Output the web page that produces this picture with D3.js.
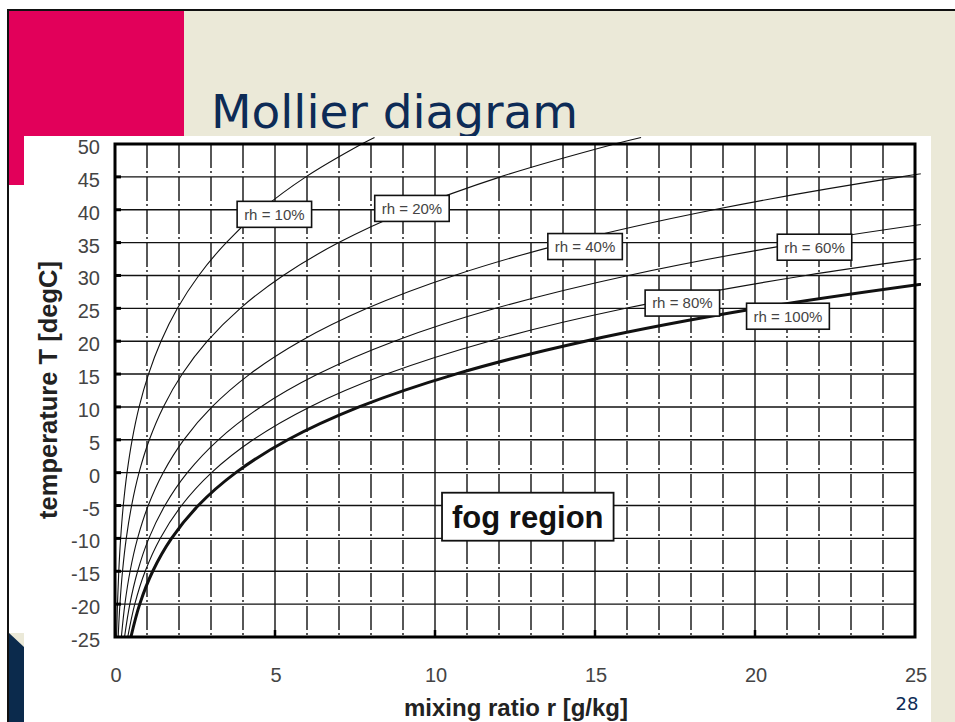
<!DOCTYPE html>
<html>
<head>
<meta charset="utf-8">
<script src="https://cdn.jsdelivr.net/npm/d3@7"></script>
<style>
  html, body { margin: 0; padding: 0; background: #fff; }
  svg { display: block; }
</style>
</head>
<body>
<script>
const temps = [-25, -20, -15, -10, -5, 0, 5, 10, 15, 20, 25, 30, 35, 40, 45, 50, 51];

// mixing ratio r [g/kg] along each curve, read at the temps above
const rh10  = [0.050, 0.077, 0.118, 0.176, 0.259, 0.376, 0.536, 0.754, 1.048, 1.438, 1.951, 2.618, 3.477, 4.574, 5.964, 7.710, 8.11];
const rh20  = [0.099, 0.154, 0.235, 0.352, 0.519, 0.751, 1.073, 1.511, 2.100, 2.883, 3.915, 5.258, 6.993, 9.216, 12.043, 15.614, 16.44];
const rh40  = [0.199, 0.309, 0.471, 0.705, 1.038, 1.505, 2.149, 3.029, 4.214, 5.793, 7.878, 10.606, 14.144, 18.709, 24.561, 32.031];
const rh60  = [0.298, 0.464, 0.707, 1.058, 1.559, 2.260, 3.230, 4.554, 6.342, 8.731, 11.893, 16.045, 21.460, 28.493];
const rh80  = [0.398, 0.618, 0.943, 1.412, 2.080, 3.017, 4.314, 6.087, 8.485, 11.696, 15.959, 21.579, 28.946];
const rh100 = [0.497, 0.773, 1.179, 1.766, 2.602, 3.776, 5.401, 7.628, 10.643, 14.689, 20.077, 27.210];

const curveNames = ["rh = 10%", "rh = 20%", "rh = 40%", "rh = 60%", "rh = 80%", "rh = 100%"];

// tick labels
const xTicks = [0, 5, 10, 15, 20, 25];
const yTicks = [50, 45, 40, 35, 30, 25, 20, 15, 10, 5, 0, -5, -10, -15, -20, -25];

// where the curve labels sit (data units)
const labelSpots = [
  { r: 4.98,  t: 39.3 },
  { r: 9.28,  t: 40.2 },
  { r: 14.69, t: 34.4 },
  { r: 21.86, t: 34.3 },
  { r: 17.73, t: 25.8 },
  { r: 21.03, t: 23.8 }
];

var width = 955, height = 722;
var plotLeft = 115, plotRight = 915, plotTop = 144, plotBottom = 637;

var svg = d3.select("body").append("svg")
  .attr("width", width)
  .attr("height", height);

// ---- slide background ----
svg.append("rect").attr("x", 0).attr("y", 0).attr("width", width).attr("height", height).attr("fill", "#fff");
svg.append("rect").attr("x", 8).attr("y", 10).attr("width", width - 8).attr("height", height - 10).attr("fill", "#ebe9d8");
svg.append("rect").attr("x", 9).attr("y", 11).attr("width", 175).attr("height", 125).attr("fill", "#e2005a");

// title
svg.append("text")
  .attr("x", 211)
  .attr("y", 128)
  .attr("font-family", "DejaVu Sans, Verdana, sans-serif")
  .attr("font-size", 47)
  .attr("fill", "#0d2b56")
  .text("Mollier diagram");

// white picture area
svg.append("rect").attr("x", 24).attr("y", 136).attr("width", 907).attr("height", height - 136).attr("fill", "#fff");
svg.append("rect").attr("x", 9).attr("y", 136).attr("width", 15).attr("height", 49).attr("fill", "#e2005a");
svg.append("rect").attr("x", 9).attr("y", 185).attr("width", 15).attr("height", 448).attr("fill", "#fff");
svg.append("path").attr("d", "M9,633 L24,647 L24,722 L9,722 Z").attr("fill", "#0b2a4c");

// slide border lines
svg.append("line").attr("x1", 7).attr("x2", width).attr("y1", 10).attr("y2", 10).attr("stroke", "#111").attr("stroke-width", 2);
svg.append("line").attr("x1", 8).attr("x2", 8).attr("y1", 9).attr("y2", height).attr("stroke", "#111").attr("stroke-width", 2);

// page number
svg.append("text")
  .attr("x", 907)
  .attr("y", 710)
  .attr("text-anchor", "middle")
  .attr("font-family", "DejaVu Sans, Verdana, sans-serif")
  .attr("font-size", 18)
  .attr("fill", "#0d2b56")
  .text("28");

// ---- chart ----
var xScale = d3.scaleLinear().domain([0, 25]).range([plotLeft, plotRight]);
var yScale = d3.scaleLinear().domain([-25, 50]).range([plotBottom, plotTop]);

var grid = svg.append("g");

// horizontal grid every 5 degC
grid.selectAll("line.h")
  .data(yTicks)
  .enter().append("line")
  .attr("class", "h")
  .attr("x1", plotLeft).attr("x2", plotRight)
  .attr("y1", d => yScale(d)).attr("y2", d => yScale(d))
  .attr("stroke", "#111")
  .attr("stroke-width", 1.4);

// vertical grid every 1 g/kg, solid at the labelled ones
grid.selectAll("line.v")
  .data(d3.range(1, 25))
  .enter().append("line")
  .attr("class", "v")
  .attr("x1", d => xScale(d)).attr("x2", d => xScale(d))
  .attr("y1", plotTop).attr("y2", plotBottom)
  .attr("stroke", "#111")
  .attr("stroke-width", 1.4)
  .attr("stroke-dasharray", d => d % 5 === 0 ? null : "24,3,2,4");

// rh curves
var clip = svg.append("clipPath").attr("id", "plotclip");
clip.append("rect").attr("x", plotLeft).attr("y", 134).attr("width", plotRight - plotLeft + 6).attr("height", plotBottom - 134);

var line = d3.line()
  .x(d => xScale(d[0]))
  .y(d => yScale(d[1]))
  .curve(d3.curveCatmullRom.alpha(0.5));

var series = [rh10, rh20, rh40, rh60, rh80, rh100];
svg.append("g")
  .attr("clip-path", "url(#plotclip)")
  .selectAll("path")
  .data(series)
  .enter().append("path")
  .attr("d", s => line(s.map((r, i) => [r, temps[i]])))
  .attr("fill", "none")
  .attr("stroke", "#111")
  .attr("stroke-width", (s, i) => i === series.length - 1 ? 3 : 1.1);

// frame
svg.append("rect")
  .attr("x", plotLeft).attr("y", plotTop)
  .attr("width", plotRight - plotLeft).attr("height", plotBottom - plotTop)
  .attr("fill", "none")
  .attr("stroke", "#000")
  .attr("stroke-width", 3);

// small ticks on the left axis and the bottom axis
svg.selectAll("line.yt")
  .data(yTicks.slice(1, -1))
  .enter().append("line")
  .attr("class", "yt")
  .attr("x1", plotLeft).attr("x2", plotLeft + 6)
  .attr("y1", d => yScale(d)).attr("y2", d => yScale(d))
  .attr("stroke", "#000").attr("stroke-width", 3);

svg.selectAll("line.xt")
  .data(xTicks.slice(1, -1))
  .enter().append("line")
  .attr("class", "xt")
  .attr("x1", d => xScale(d)).attr("x2", d => xScale(d))
  .attr("y1", plotBottom).attr("y2", plotBottom - 7)
  .attr("stroke", "#000").attr("stroke-width", 2.5);

// tick labels
svg.selectAll("text.yl")
  .data(yTicks)
  .enter().append("text")
  .attr("class", "yl")
  .attr("x", 100)
  .attr("y", d => yScale(d) + 10)
  .attr("text-anchor", "end")
  .attr("font-family", "Liberation Sans, Arial, sans-serif")
  .attr("font-size", 20)
  .attr("fill", "#444")
  .text(d => d);

svg.selectAll("text.xl")
  .data(xTicks)
  .enter().append("text")
  .attr("class", "xl")
  .attr("x", d => xScale(d) + 1)
  .attr("y", 682)
  .attr("text-anchor", "middle")
  .attr("font-family", "Liberation Sans, Arial, sans-serif")
  .attr("font-size", 20)
  .attr("fill", "#444")
  .text(d => d);

// axis titles
svg.append("text")
  .attr("x", 516)
  .attr("y", 716)
  .attr("text-anchor", "middle")
  .attr("font-family", "Liberation Sans, Arial, sans-serif")
  .attr("font-weight", "bold")
  .attr("font-size", 24)
  .attr("fill", "#222")
  .text("mixing ratio r [g/kg]");

svg.append("text")
  .attr("transform", "translate(57,390) rotate(-90)")
  .attr("text-anchor", "middle")
  .attr("font-family", "Liberation Sans, Arial, sans-serif")
  .attr("font-weight", "bold")
  .attr("font-size", 25.5)
  .attr("fill", "#222")
  .text("temperature T [degC]");

// boxed labels
function boxLabel(cx, cy, txt, size, weight, padX, boxH, color, sw) {
  var g = svg.append("g");
  var rect = g.append("rect");
  var t = g.append("text")
    .attr("x", cx).attr("y", cy)
    .attr("dy", "0.36em")
    .attr("text-anchor", "middle")
    .attr("font-family", "Liberation Sans, Arial, sans-serif")
    .attr("font-size", size)
    .attr("font-weight", weight)
    .attr("fill", color)
    .text(txt);
  var w = t.node().getComputedTextLength() + padX * 2;
  rect.attr("x", cx - w / 2).attr("y", cy - boxH / 2)
    .attr("width", w).attr("height", boxH)
    .attr("fill", "#fff")
    .attr("stroke", "#111")
    .attr("stroke-width", sw);
}

labelSpots.forEach((p, i) => {
  boxLabel(xScale(p.r), yScale(p.t), curveNames[i], 15, "normal", 7, 26, "#444", 1.6);
});

boxLabel(xScale(12.9), yScale(-6.7), "fog region", 31, "bold", 10, 48, "#111", 1.8);
</script>
</body>
</html>
